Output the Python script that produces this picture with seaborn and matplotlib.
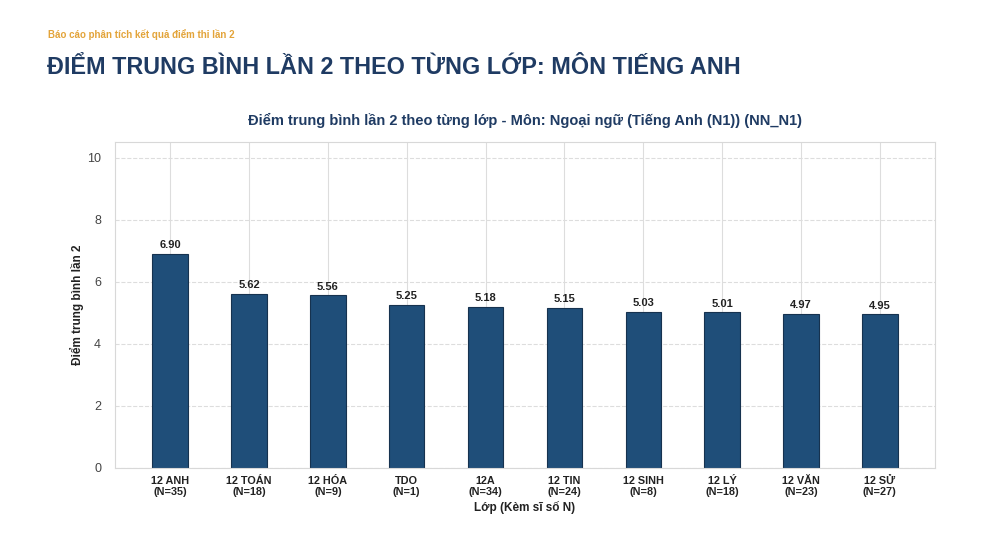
import matplotlib
matplotlib.use('Agg')
import matplotlib.pyplot as plt
import seaborn as sns
import pandas as pd

# Dữ liệu
lop = ['12 ANH', '12 TOÁN', '12 HÓA', 'TDO', '12A', '12 TIN', '12 SINH', '12 LÝ', '12 VĂN', '12 SỬ']
si_so = [35, 18, 9, 1, 34, 24, 8, 18, 23, 27]
diem_tb = [6.90, 5.62, 5.56, 5.25, 5.18, 5.15, 5.03, 5.01, 4.97, 4.95]

nhan_x = [f'{l}\n(N={n})' for l, n in zip(lop, si_so)]
df = pd.DataFrame({'lop': nhan_x, 'diem': diem_tb})

sns.set_theme(style='whitegrid')
plt.rcParams['font.family'] = ['Liberation Sans', 'DejaVu Sans']

mau_cot = '#1f4e79'
mau_tieude = '#1f3b63'

fig = plt.figure(figsize=(10, 5.56), dpi=100)
fig.patch.set_facecolor('white')

# Tiêu đề trang
fig.text(0.048, 1 - 35 / 556, 'Báo cáo phân tích kết quả điểm thi lần 2',
         color='#e3a43a', fontsize=7, fontweight='bold', va='center', ha='left')
fig.text(0.047, 1 - 68 / 556, 'ĐIỂM TRUNG BÌNH LẦN 2 THEO TỪNG LỚP: MÔN TIẾNG ANH',
         color=mau_tieude, fontsize=16.8, fontweight='bold', va='center', ha='left')

ax = fig.add_axes([0.115, 1 - 468 / 556, 0.82, (468 - 142) / 556])
sns.barplot(data=df, x='lop', y='diem', color=mau_cot, width=0.45,
            edgecolor='#16324f', linewidth=0.8, saturation=1, ax=ax)

for p, v in zip(ax.patches, diem_tb):
    ax.text(p.get_x() + p.get_width() / 2, v + 0.12, f'{v:.2f}',
            ha='center', va='bottom', fontsize=8, fontweight='bold', color='#222222')

ax.set_title('Điểm trung bình lần 2 theo từng lớp - Môn: Ngoại ngữ (Tiếng Anh (N1)) (NN_N1)',
             fontsize=10.5, fontweight='bold', color=mau_tieude, pad=12)
ax.set_xlabel('Lớp (Kèm sĩ số N)', fontsize=8.5, fontweight='bold', color='#222222', labelpad=3)
ax.set_ylabel('Điểm trung bình lần 2', fontsize=8.5, fontweight='bold', color='#222222', labelpad=2)

ax.set_ylim(0, 10.5)
ax.set_xlim(-0.7, 9.7)
ax.set_yticks([0, 2, 4, 6, 8, 10])
ax.tick_params(axis='y', labelsize=9, colors='#444444', length=0, pad=10)
ax.tick_params(axis='x', labelsize=7.8, length=0, pad=6)
for t in ax.get_xticklabels():
    t.set_fontweight('bold')
    t.set_linespacing(1.05)
    t.set_color('#222222')

ax.grid(axis='y', linestyle='--', color='#dddddd', linewidth=0.8)
ax.grid(axis='x', linestyle='-', color='#dddddd', linewidth=0.8)
for s in ax.spines.values():
    s.set_color('#d8d8d8')
    s.set_linewidth(0.8)

fig.savefig('out.png', dpi=100, facecolor='white')
